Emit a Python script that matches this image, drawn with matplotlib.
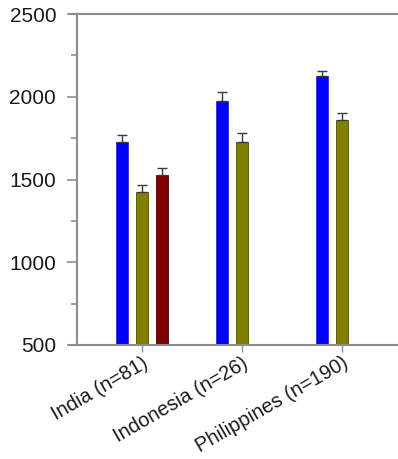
import matplotlib
matplotlib.use("Agg")
import matplotlib.pyplot as plt
import numpy as np

plt.rcParams["font.family"] = ["Liberation Sans", "DejaVu Sans"]

countries = ["India (n=81)", "Indonesia (n=26)", "Philippines (n=190)"]
blue_vals = [1728, 1976, 2123]
blue_err = [40, 55, 35]
olive_vals = [1426, 1725, 1858]
olive_err = [40, 55, 42]
red_vals = [1527]
red_err = [40]

spine_col = "#8c8c8c"
text_col = "#1a1a1a"
width = 0.12

fig = plt.figure(figsize=(3.98, 4.59), dpi=100)
ax = fig.add_axes([77 / 398, 1 - 345 / 459, 1 - 77 / 398, (345 - 14) / 459])

x = np.arange(len(countries))
err_kw = dict(ecolor="#3a3a3a", elinewidth=1, capsize=3.6, capthick=1)

ax.bar(x - 0.2, blue_vals, width, color="#0000ff", edgecolor="#3030c0",
       linewidth=0.6, yerr=[np.zeros(3), blue_err], error_kw=err_kw, zorder=2)
ax.bar(x, olive_vals, width, color="#808000", edgecolor="#4a4a00",
       linewidth=0.6, yerr=[np.zeros(3), olive_err], error_kw=err_kw, zorder=2)
ax.bar(x[:1] + 0.2, red_vals, width, color="#800000", edgecolor="#4a0000",
       linewidth=0.6, yerr=[np.zeros(1), red_err], error_kw=err_kw, zorder=2)

ax.set_ylim(500, 2500)
ax.set_xlim(-0.65, 2.56)
ax.set_yticks([500, 1000, 1500, 2000, 2500])
ax.set_yticks(np.arange(750, 2500, 500), minor=True)
ax.set_xticks(x)
ax.set_xticklabels(countries, rotation=30, ha="right", rotation_mode="anchor",
                   fontsize=14.5, color=text_col)
ax.tick_params(axis="y", which="major", direction="out", length=7, width=1.2,
               color=spine_col, labelsize=15, labelcolor=text_col, pad=8)
ax.tick_params(axis="y", which="minor", direction="out", length=4, width=1.2, color=spine_col)
ax.tick_params(axis="x", direction="out", length=5, width=1, color=spine_col, pad=1)

for side in ["left", "top", "bottom"]:
    ax.spines[side].set_color(spine_col)
    ax.spines[side].set_linewidth(1.5)
ax.spines["right"].set_visible(False)

# extend the top and bottom spines past the left axis like tick marks
ax.plot([-0.72, -0.65], [2500, 2500], color=spine_col, lw=1.5, clip_on=False)
ax.plot([-0.72, -0.65], [500, 500], color=spine_col, lw=1.5, clip_on=False)

fig.savefig("out.png", dpi=100)
